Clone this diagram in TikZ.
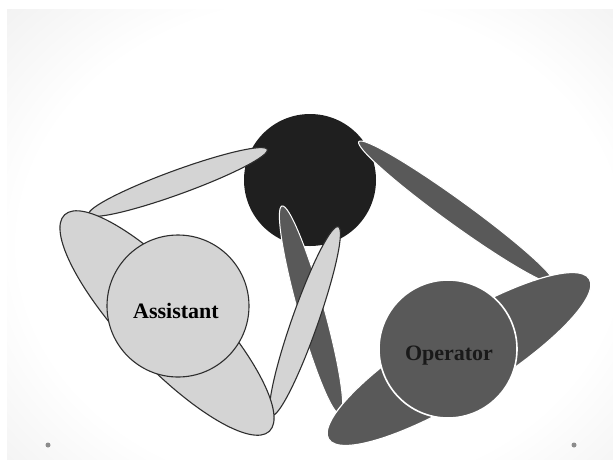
\documentclass[tikz,border=0pt]{standalone}
\usepackage{fontspec}
\setmainfont{Liberation Serif}
\usetikzlibrary{shapes.geometric}
\definecolor{hubblack}{HTML}{1F1F1F}
\definecolor{lightgr}{HTML}{D4D4D4}
\definecolor{darkgr}{HTML}{595959}
\definecolor{edgegr}{HTML}{2E2E2E}
\pgfdeclareradialshading{vignette}{\pgfpointorigin}{color(0bp)=(white); color(24bp)=(white); color(50bp)=(black!13); color(72bp)=(black!24)}
\tikzset{
  lightlink/.style={ellipse, draw=edgegr, fill=lightgr, line width=1.1pt, inner sep=0pt},
  darklink/.style={ellipse, draw=white, fill=darkgr, line width=1pt, inner sep=0pt},
  role/.style={circle, inner sep=0pt, line width=1.1pt},
  rolename/.style={font=\fontsize{22}{24}\selectfont\bfseries},
  corner/.style={circle, fill=black!45, inner sep=0pt, minimum size=5pt},
}

\begin{document}
\begin{tikzpicture}[x=1pt, y=-1pt]
  \useasboundingbox (0,0) rectangle (613,459);
  \fill[white] (0,0) rectangle (613,459);
  \begin{scope}
    \clip (7,9) rectangle (613,459);
    \shade[shading=vignette] (7,-10) rectangle (633,500);
  \end{scope}
  \node[corner] (dl) at (48,445) {};
  \node[corner] (dr) at (574,445) {};

  \node[circle, fill=hubblack, inner sep=0pt, minimum size=132pt] (hub) at (310,180) {};
  \node[lightlink, minimum width=190pt, minimum height=24pt, rotate=20] (lk1) at (178,182) {};
  \node[darklink, minimum width=240pt, minimum height=24pt, rotate=-35.9] (dkB) at (456,212) {};
  \node[darklink, minimum width=216pt, minimum height=26pt, rotate=-74.4] (dkA) at (311,310) {};
  \node[lightlink, minimum width=200pt, minimum height=26pt, rotate=70.6] (lk2) at (305,321) {};

  \node[lightlink, minimum width=298pt, minimum height=86pt, rotate=-46.6] (bigL) at (167,323) {};
  \node[role, draw=edgegr, fill=lightgr, minimum size=142pt] (asst) at (178,306) {};
  \node[rolename] (asstname) at (176,311) {Assistant};

  \node[darklink, minimum width=306pt, minimum height=76pt, line width=1.2pt, rotate=31.6] (bigD) at (459,359) {};
  \node[role, draw=white, fill=darkgr, line width=1.6pt, minimum size=138pt] (oper) at (448,349) {};
  \node[rolename, text=black!90] (opername) at (449,356) {Operator};
\end{tikzpicture}
\end{document}
